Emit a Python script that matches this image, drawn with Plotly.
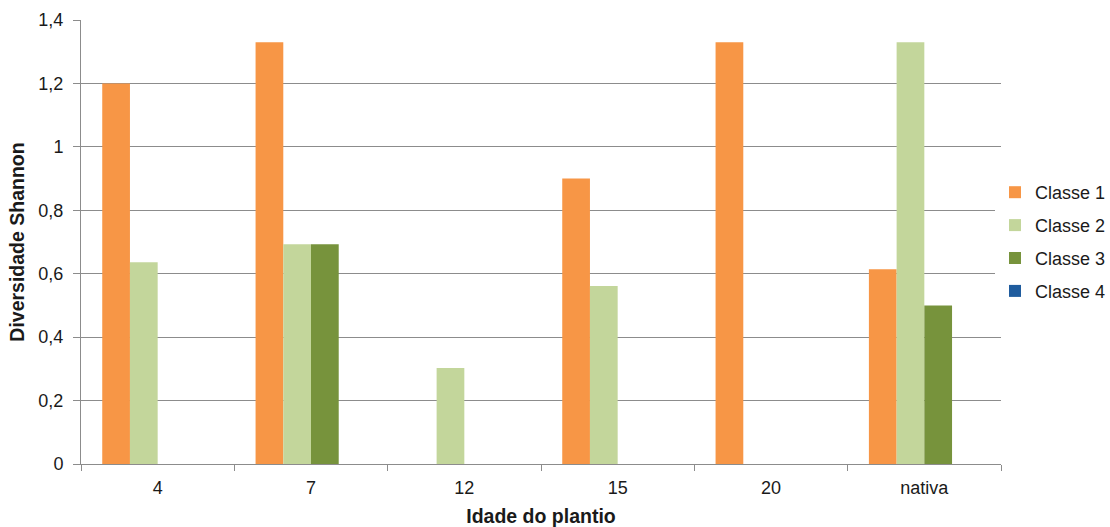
import plotly.graph_objects as go

# Shannon diversity by planting age and size class
idades = ["4", "7", "12", "15", "20", "nativa"]
classe_1 = [1.20, 1.33, 0, 0.90, 1.33, 0.614]
classe_2 = [0.636, 0.693, 0.303, 0.561, 0, 1.33]
classe_3 = [0, 0.693, 0, 0, 0, 0.50]
classe_4 = [0, 0, 0, 0, 0, 0]

series = [
    ("Classe 1", classe_1, "#F79646"),
    ("Classe 2", classe_2, "#C3D69B"),
    ("Classe 3", classe_3, "#77933C"),
    ("Classe 4", classe_4, "#1F5C9E"),
]

fig = go.Figure()
for nome, valores, cor in series:
    fig.add_trace(go.Bar(
        x=idades, y=valores, name=nome, legendgroup=nome,
        marker=dict(color=cor, line=dict(width=0)),
    ))

grid = "#8C8C8C"
txt = "#1a1a1a"
fig.update_layout(
    width=1110, height=527,
    margin=dict(l=81, r=109, t=20, b=63, autoexpand=False),
    paper_bgcolor="white", plot_bgcolor="white",
    separators=", ",
    barmode="group", bargap=0.277, bargroupgap=0,
    font=dict(family="Liberation Sans, Arial, sans-serif", size=18, color=txt),
    legend=dict(
        x=0.9935, xanchor="left", y=0.5, yanchor="middle",
        font=dict(size=18, color=txt),
        tracegroupgap=6.5, itemwidth=30,
    ),
    xaxis=dict(
        showline=True, linecolor=grid, linewidth=1,
        ticks="outside", tickson="boundaries", ticklen=6, tickcolor=grid,
        ticklabelstandoff=7,
        showgrid=False,
        title=dict(text="<b>Idade do plantio</b>", font=dict(size=19.5, color=txt), standoff=12),
    ),
    yaxis=dict(
        range=[0, 1.4], dtick=0.2,
        showline=True, linecolor=grid, linewidth=1,
        ticks="outside", ticklen=7, tickcolor=grid,
        ticklabelstandoff=6,
        showgrid=True, gridcolor=grid, gridwidth=1,
        zeroline=False,
        title=dict(text="<b>Diversidade Shannon</b>", font=dict(size=19.5, color=txt), standoff=8),
    ),
)

fig.write_html("out.html")
